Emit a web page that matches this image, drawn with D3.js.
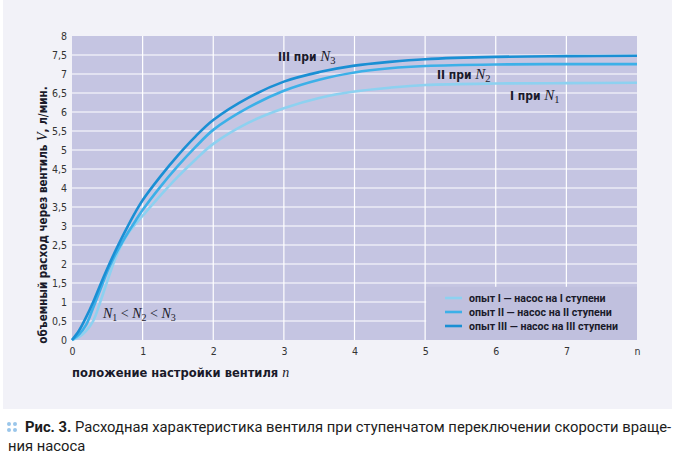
<!DOCTYPE html>
<html><head><meta charset="utf-8">
<script src="https://cdn.jsdelivr.net/npm/d3@7"></script>
<style>
body{margin:0;background:#fff;}
svg{display:block;}
</style></head>
<body>
<svg id="c" width="675" height="460"></svg>
<script>
// Data
const xPos = [0,0.1,0.2,0.3,0.4,0.5,0.6,0.7,0.8,0.9,1.0,1.25,1.5,1.75,2,2.5,3,3.5,4,4.5,5,6,7,8];
const seriesI   = [0,0.08,0.24,0.5,1.0,1.55,2.08,2.5,2.82,3.06,3.27,3.8,4.3,4.75,5.16,5.72,6.1,6.37,6.54,6.64,6.71,6.75,6.76,6.77];
const seriesII  = [0,0.15,0.4,0.85,1.32,1.8,2.2,2.54,2.85,3.14,3.42,4.03,4.58,5.08,5.53,6.12,6.56,6.85,7.04,7.15,7.21,7.25,7.26,7.26];
const seriesIII = [0,0.25,0.6,1.0,1.45,1.88,2.29,2.67,3.03,3.37,3.68,4.3,4.86,5.36,5.79,6.38,6.8,7.05,7.22,7.32,7.39,7.45,7.47,7.48];
const xTicks = [0,1,2,3,4,5,6,7,8];
const xTickLabels = ["0","1","2","3","4","5","6","7","n"];
const yTicks = [0,0.5,1,1.5,2,2.5,3,3.5,4,4.5,5,5.5,6,6.5,7,7.5,8];
const legendLabels = ["опыт I — насос на I ступени","опыт II — насос на II ступени","опыт III — насос на III ступени"];
const colors = ["#8dd1f0","#3cb0e8","#1a8fd4"];

const svg = d3.select("#c");
const narrow = "'Liberation Sans Narrow','DejaVu Sans Condensed',sans-serif";
const wide = "Roboto,'Liberation Sans',sans-serif";
const serif = "'Liberation Serif','DejaVu Serif',serif";

// panel
svg.append("rect").attr("x",3).attr("y",0).attr("width",669).attr("height",409).attr("fill","#f2f2f8");

const m = {left:72, right:637, top:36, bottom:340};
const x = d3.scaleLinear().domain([0,8]).range([m.left,m.right]);
const y = d3.scaleLinear().domain([0,8]).range([m.bottom,m.top]);

svg.append("rect").attr("x",m.left).attr("y",m.top).attr("width",m.right-m.left).attr("height",m.bottom-m.top).attr("fill","#c5c5e2");

// grid
const g = svg.append("g");
g.selectAll(".hg").data(yTicks.slice(1,-1)).join("line")
  .attr("x1",m.left).attr("x2",m.right).attr("y1",d=>y(d)).attr("y2",d=>y(d))
  .attr("stroke","#fff").attr("stroke-width",1.2);
g.selectAll(".vg").data(xTicks.slice(1,-1)).join("line")
  .attr("y1",m.top).attr("y2",m.bottom).attr("x1",d=>x(d)).attr("x2",d=>x(d))
  .attr("stroke","#fff").attr("stroke-width",1.2);

// legend box (covers grid)
svg.append("rect").attr("x",x(5)+1).attr("y",y(1.4)).attr("width",m.right-x(5)-1).attr("height",m.bottom-y(1.4))
  .attr("fill","#c0c0de");

// axes
const xa = svg.append("g").attr("transform",`translate(0,${m.bottom})`)
  .call(d3.axisBottom(x).tickValues(xTicks).tickFormat((d,i)=>xTickLabels[i]).tickSize(0).tickPadding(8));
xa.select(".domain").remove();
const ya = svg.append("g").attr("transform",`translate(${m.left},0)`)
  .call(d3.axisLeft(y).tickValues(yTicks).tickFormat(d=>String(d).replace(".",",")).tickSize(0).tickPadding(5));
ya.select(".domain").remove();
svg.selectAll(".tick text").attr("font-family",narrow).attr("font-size",10.5).attr("fill","#333");

// curves
const data = [seriesI,seriesII,seriesIII];
const line = d3.line().x((d,i)=>x(xPos[i])).y(d=>y(d)).curve(d3.curveCatmullRom.alpha(0.5));
svg.append("g").selectAll("path").data(data).join("path")
  .attr("d",line).attr("fill","none").attr("stroke",(d,i)=>colors[i]).attr("stroke-width",2.6);

// curve labels
function label(px,py,roman,sub){
  const t = svg.append("text").attr("x",px).attr("y",py).attr("fill","#1a1a2a");
  t.append("tspan").attr("font-family",narrow).attr("font-weight","bold").attr("font-size",12).text(roman+" при ");
  t.append("tspan").attr("font-family",serif).attr("font-style","italic").attr("font-size",15).text("N");
  t.append("tspan").attr("font-family",serif).attr("font-size",10.5).attr("dy",3).text(sub);
}
label(278,61,"III","3");
label(437,79,"II","2");
label(510,100,"I","1");

// N1 < N2 < N3
{
  const t = svg.append("text").attr("x",103).attr("y",318).attr("fill","#1a1a2a").attr("font-family",serif).attr("font-size",14);
  const subs = ["1","2","3"];
  subs.forEach((s,i)=>{
    if(i>0){ t.append("tspan").attr("dy",-3).text(" < "); }
    t.append("tspan").attr("font-style","italic").text("N");
    t.append("tspan").attr("font-size",10).attr("dy",3).text(s);
  });
}

// legend
const lg = svg.append("g");
legendLabels.forEach((txt,i)=>{
  const ly = 298 + i*14;
  lg.append("line").attr("x1",445).attr("x2",462).attr("y1",ly).attr("y2",ly).attr("stroke",colors[i]).attr("stroke-width",2.6);
  lg.append("text").attr("x",469).attr("y",ly+3.5).attr("font-family",wide).attr("font-weight","bold")
    .attr("font-size",10.6).attr("fill","#1a1a2a").text(txt);
});

// y axis title
{
  const t = svg.append("text").attr("transform","translate(47,215) rotate(-90)").attr("text-anchor","middle")
    .attr("fill","#1a1a2a").attr("font-family",narrow).attr("font-weight","bold").attr("font-size",11.6);
  t.append("tspan").text("объемный расход через вентиль ");
  t.append("tspan").attr("font-family",serif).attr("font-style","italic").attr("font-weight","normal").attr("font-size",14).text("V");
  t.append("tspan").text(", л/мин.");
}
// x axis title
{
  const t = svg.append("text").attr("x",72).attr("y",377).attr("fill","#1a1a2a")
    .attr("font-family",narrow).attr("font-weight","bold").attr("font-size",12.8);
  t.append("tspan").text("положение настройки вентиля ");
  t.append("tspan").attr("font-family",serif).attr("font-style","italic").attr("font-weight","normal").attr("font-size",14).text("n");
}

// caption
[[9,424],[15,424],[9,430],[15,430]].forEach(p=>{
  svg.append("circle").attr("cx",p[0]).attr("cy",p[1]).attr("r",2).attr("fill","#9ac6ea");
});
{
  const t = svg.append("text").attr("x",25).attr("y",432).attr("fill","#1c1c1c")
    .attr("font-family",wide).attr("font-size",14);
  t.append("tspan").attr("font-weight","bold").text("Рис. 3.");
  t.append("tspan").text(" Расходная характеристика вентиля при ступенчатом переключении скорости враще-");
  const w = t.node().getComputedTextLength();
  const target = 647;
  const fs = 14*target/w;
  t.attr("font-size",fs);
  svg.append("text").attr("x",8).attr("y",451).attr("fill","#1c1c1c")
    .attr("font-family",wide).attr("font-size",fs).text("ния насоса");
}
</script>
</body></html>
